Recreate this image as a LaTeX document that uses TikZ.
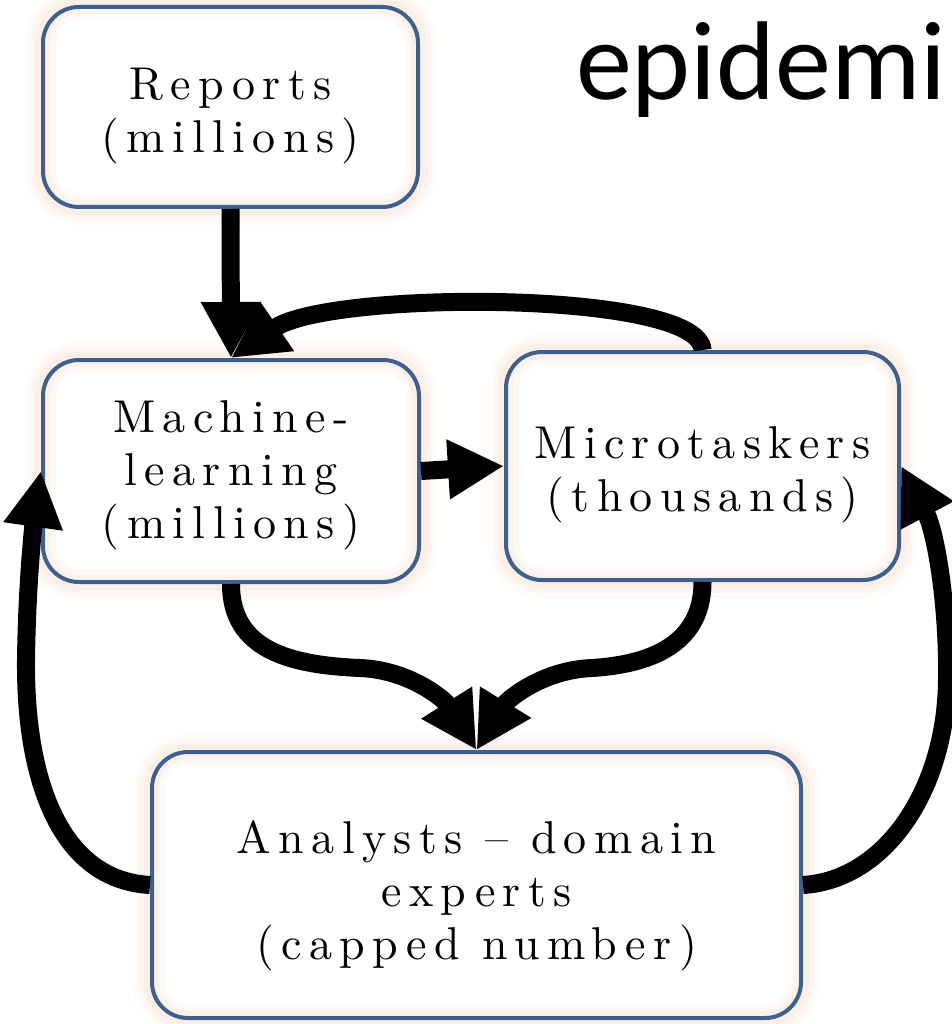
\documentclass[tikz,border=0pt]{standalone}
\usepackage{fontspec}
\newfontfamily\titlefont{Carlito}
\newfontfamily\spacedlm{lmroman10-regular}[Extension=.otf, LetterSpace=16]
\usetikzlibrary{arrows.meta}
\definecolor{boxblue}{HTML}{3E6091}
\definecolor{glowc}{HTML}{F6D3B8}
\newcommand\boxfont{\spacedlm\fontsize{46}{53}\selectfont}
\newcommand\firstline[1]{\rule{0pt}{#1}}
\tikzset{
  box/.style={draw=boxblue, line width=4pt, rounded corners=36pt, fill=white,
    align=center, inner sep=0pt, font=\boxfont,
    preaction={draw=glowc, line width=36pt, draw opacity=0.10},
    preaction={draw=glowc, line width=26pt, draw opacity=0.14},
    preaction={draw=glowc, line width=16pt, draw opacity=0.18},
    path picture={
      \draw[glowc, line width=26pt, draw opacity=0.12, rounded corners=36pt]
        (path picture bounding box.south west) rectangle (path picture bounding box.north east);
      \draw[glowc, line width=14pt, draw opacity=0.18, rounded corners=36pt]
        (path picture bounding box.south west) rectangle (path picture bounding box.north east);
    }},
  bigarrow/.style={line width=18pt, -{Triangle[length=56pt,width=56pt]}},
}
\begin{document}
\begin{tikzpicture}[x=1pt, y=-1pt]
\useasboundingbox (0,0) rectangle (951,1024);

\node[anchor=base west, font=\titlefont\fontsize{112}{114}\selectfont, inner sep=0pt] (title) at (576,100) {epidemi};

\node[box, minimum width=375pt, minimum height=200pt] (rep) at (230.5,107) {\firstline{50pt}Reports\\(millions)};
\node[box, minimum width=376pt, minimum height=222pt] (ml) at (231,471) {\firstline{40pt}Machine-\\learning\\(millions)};
\node[box, minimum width=393pt, minimum height=228pt] (mt) at (702.5,466) {\firstline{50pt}Microtaskers\\(thousands)};
\node[box, minimum width=649pt, minimum height=266pt] (an) at (476.5,885) {\firstline{54pt}Analysts \textendash{} domain\\experts\\(capped number)};

% Reports -> Machine-learning
\draw[bigarrow] (rep.south) -- (ml.north);
% Microtaskers -> Machine-learning (arc on top)
\draw[bigarrow] (mt.north) .. controls (700,290) and (330,290) .. (ml.north);
% Machine-learning -> Microtaskers
\draw[bigarrow] (ml.east) -- (mt.west);
% Machine-learning -> Analysts
\draw[bigarrow] (ml.south) .. controls (231,650) and (290,665) .. (360,668)
  .. controls (410,670) and (445,700) .. (an.north);
% Microtaskers -> Analysts
\draw[bigarrow] (mt.south) .. controls (702.5,650) and (640,665) .. (592,668)
  .. controls (542,670) and (507,700) .. (an.north);
% Analysts -> Machine-learning (left loop)
\draw[bigarrow] (an.west) .. controls (60,880) and (25,780) .. (26,660)
  .. controls (27,580) and (34,520) .. (ml.west);
% Analysts -> Microtaskers (right loop)
\draw[bigarrow] (an.east) .. controls (885,880) and (946,790) .. (947,680)
  .. controls (948,600) and (935,530) .. (mt.east);
\end{tikzpicture}
\end{document}
